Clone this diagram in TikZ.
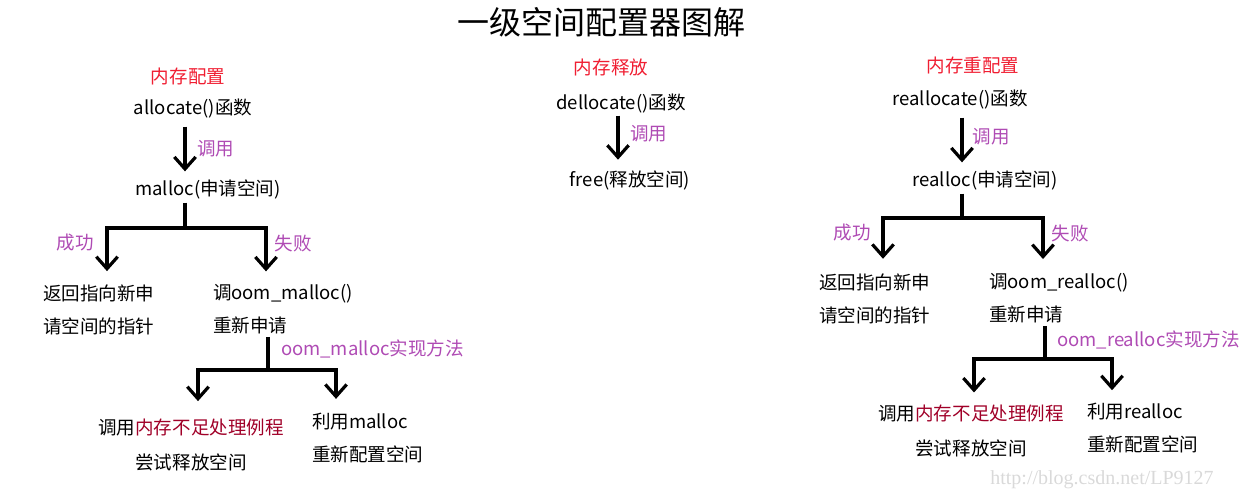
\documentclass[tikz,border=0pt]{standalone}
\usepackage{fontspec}
\setmainfont{Noto Sans CJK SC}
\newfontfamily\wmfont{Liberation Serif}
\usetikzlibrary{arrows.meta,positioning}
\definecolor{headred}{RGB}{240,30,50}
\definecolor{notepurple}{RGB}{175,75,180}
\definecolor{warnred}{RGB}{160,0,40}

\begin{document}
\begin{tikzpicture}[x=0.75pt,y=-0.75pt,
        txt/.style={
          inner sep=0pt,outer sep=0pt,
          font=\fontsize{13.9}{24.75}\selectfont
        },
        head/.style={txt,text=headred},
        note/.style={txt,text=notepurple},
        bar/.style={line width=2.4pt},
        link/.style={bar,-{Straight Barb[length=9pt,width=16pt]}},
      ]
      \useasboundingbox (0,0) rectangle (1248,500);
      \node[txt,font=\fontsize{24}{28}\selectfont] (title) at (601,22) {一级空间配置器图解};

      % allocate
      \node[head] (memalloc) at (188,76) {内存配置};
      \node[txt] (allocfn) at (193,109) {allocate()函数};
      \node[txt] (malloc) at (208,189) {malloc(申请空间)};
      \node[txt,align=left,anchor=west] (okalloc) at (43,309.5) {返回指向新申\\请空间的指针};
      \node[txt,align=left,anchor=west] (failalloc) at (213,309.5) {调oom\_malloc()\\重新申请};
      \node[txt,align=center] (tryalloc) at (191,444.5) {调用\textcolor{warnred}{内存不足处理例程}\\[1.5pt]尝试释放空间};
      \node[txt,align=left,anchor=west] (reusealloc) at (312,438.5) {利用malloc\\重新配置空间};
      \node[note] (okallocl) at (75,243) {成功};
      \node[note] (failallocl) at (293,243) {失败};
      \node[note,anchor=west] (oomallocl) at (281,349) {oom\_malloc实现方法};
      \coordinate (callalloc) at (185,0);
      \coordinate (splitalloc) at (185,228);
      \coordinate (dropok) at (107,0);
      \coordinate (dropfail) at (266,0);
      \coordinate (splitoom) at (268,370);
      \coordinate (droptry) at (198,0);
      \coordinate (dropreuse) at (336,0);

      \draw[link,shorten <=6pt,shorten >=6pt] (allocfn.south -| callalloc) -- (malloc.north -| callalloc)
        node[note,midway,right=9pt] (callallocl) {调用};
      \draw[bar,shorten <=3pt] (malloc.south -| splitalloc) -- (splitalloc);
      \draw[link,shorten >=10pt] (splitalloc) -| (okalloc.north -| dropok);
      \draw[link,shorten >=10pt] (splitalloc) -| (failalloc.north -| dropfail);
      \draw[bar,shorten <=2pt] (failalloc.south -| splitoom) -- (splitoom);
      \draw[link,shorten >=13pt] (splitoom) -| (tryalloc.north -| droptry);
      \draw[link,shorten >=11pt] (splitoom) -| (reusealloc.north -| dropreuse);

      % dellocate
      \node[head] (memfree) at (611,67) {内存释放};
      \node[txt] (freefn) at (621,104) {dellocate()函数};
      \node[txt] (free) at (630,180) {free(释放空间)};
      \coordinate (callfree) at (618,0);
      \draw[link,shorten <=1.5pt,shorten >=8pt] (freefn.south -| callfree) -- (free.north -| callfree)
        node[note,pos=0.36,right=9pt] (callfreel) {调用};

      % reallocate
      \node[head] (memrealloc) at (973,65) {内存重配置};
      \node[txt] (reallocfn) at (960,100) {reallocate()函数};
      \node[txt] (realloc) at (985,180) {realloc(申请空间)};
      \node[txt,align=left,anchor=west] (okrealloc) at (819,298.5) {返回指向新申\\请空间的指针};
      \node[txt,align=left,anchor=west] (failrealloc) at (989,298.5) {调oom\_realloc()\\重新申请};
      \node[txt,align=center] (tryrealloc) at (971,430.5) {调用\textcolor{warnred}{内存不足处理例程}\\[1.5pt]尝试释放空间};
      \node[txt,align=left,anchor=west] (reuserealloc) at (1087,428.5) {利用realloc\\重新配置空间};
      \node[note] (okreallocl) at (852,233) {成功};
      \node[note] (failreallocl) at (1070,233) {失败};
      \node[note,anchor=west] (oomreallocl) at (1057,340) {oom\_realloc实现方法};
      \coordinate (callrealloc) at (962,0);
      \coordinate (splitrealloc) at (962,218);
      \coordinate (dropokr) at (883,0);
      \coordinate (dropfailr) at (1043,0);
      \coordinate (splitoomr) at (1045,359);
      \coordinate (droptryr) at (974,0);
      \coordinate (dropreuser) at (1112,0);

      \draw[link,shorten <=6pt,shorten >=6pt] (reallocfn.south -| callrealloc) -- (realloc.north -| callrealloc)
        node[note,pos=0.45,right=8pt] (callreallocl) {调用};
      \draw[bar,shorten <=3pt] (realloc.south -| splitrealloc) -- (splitrealloc);
      \draw[link,shorten >=11pt] (splitrealloc) -| (okrealloc.north -| dropokr);
      \draw[link,shorten >=11pt] (splitrealloc) -| (failrealloc.north -| dropfailr);
      \draw[bar,shorten <=2pt] (failrealloc.south -| splitoomr) -- (splitoomr);
      \draw[link,shorten >=9pt] (splitoomr) -| (tryrealloc.north -| droptryr);
      \draw[link,shorten >=10pt] (splitoomr) -| (reuserealloc.north -| dropreuser);

      \node[txt,font=\wmfont\fontsize{15}{18}\selectfont,text=black!15] (mark) at (1102,480) {http://blog.csdn.net/LP9127};
    \end{tikzpicture}
\end{document}
